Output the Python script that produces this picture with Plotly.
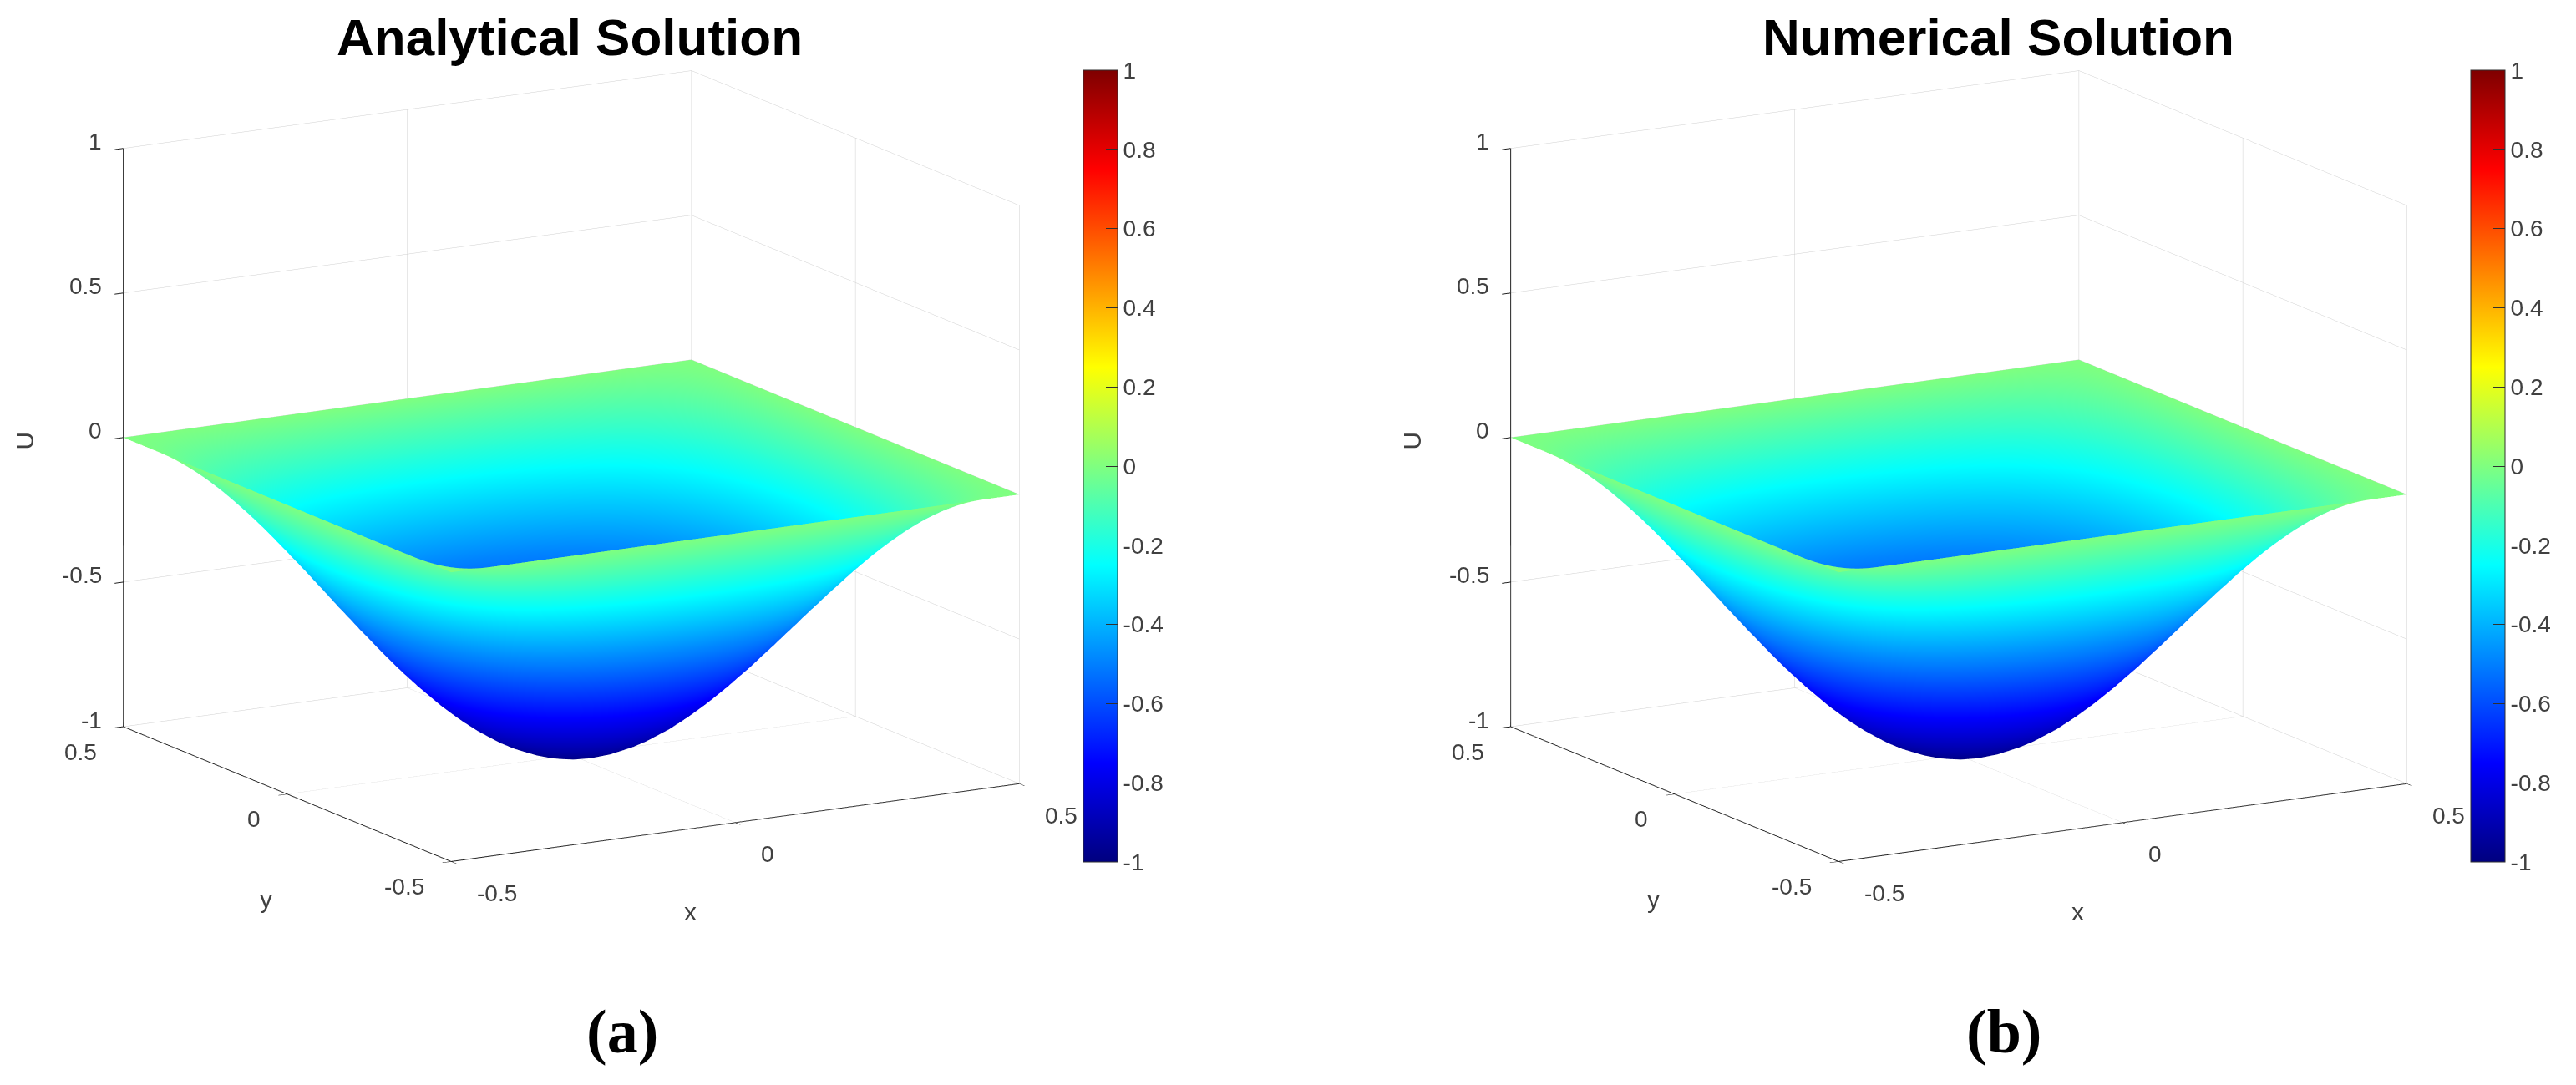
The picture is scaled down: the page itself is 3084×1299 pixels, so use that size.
import numpy as np
import plotly.graph_objects as go

# |U| on the quarter x, y in [-0.5, 0] (edge -> centre)
quarter_depth = [
[0,0,0,0,0,0,0,0,0,0,0,0,0,0,0,0,0,0,0,0,0],
[0,.006,.012,.018,.024,.030,.036,.041,.046,.051,.056,.060,.064,.067,.070,.073,.075,.076,.078,.078,.078],
[0,.012,.024,.037,.048,.060,.071,.082,.092,.102,.111,.119,.127,.133,.139,.144,.149,.152,.154,.156,.156],
[0,.018,.037,.054,.072,.089,.106,.122,.137,.152,.165,.177,.189,.199,.208,.216,.222,.227,.231,.233,.233],
[0,.024,.048,.072,.095,.118,.140,.161,.182,.201,.218,.235,.250,.263,.275,.285,.294,.300,.305,.308,.309],
[0,.030,.060,.089,.118,.146,.174,.200,.225,.249,.271,.291,.310,.326,.341,.354,.364,.372,.378,.382,.383],
[0,.036,.071,.106,.140,.174,.206,.237,.267,.295,.321,.345,.367,.387,.405,.419,.432,.441,.448,.453,.454],
[0,.041,.082,.122,.161,.200,.237,.273,.307,.339,.369,.397,.423,.445,.466,.483,.497,.508,.516,.521,.523],
[0,.046,.092,.137,.182,.225,.267,.307,.346,.382,.416,.447,.476,.501,.524,.543,.559,.572,.581,.586,.588],
[0,.051,.102,.152,.201,.249,.295,.339,.382,.422,.459,.494,.525,.554,.579,.600,.618,.631,.641,.647,.649],
[0,.056,.111,.165,.218,.271,.321,.369,.416,.459,.500,.538,.572,.603,.630,.653,.673,.688,.698,.705,.707],
[0,.060,.119,.177,.235,.291,.345,.397,.447,.494,.538,.578,.615,.648,.678,.703,.723,.739,.751,.758,.760],
[0,.064,.127,.189,.250,.310,.367,.423,.476,.525,.572,.615,.655,.690,.721,.747,.769,.787,.799,.807,.809],
[0,.067,.133,.199,.263,.326,.387,.445,.501,.554,.603,.648,.690,.727,.760,.788,.811,.829,.842,.850,.853],
[0,.070,.139,.208,.275,.341,.405,.466,.524,.579,.630,.678,.721,.760,.794,.823,.847,.866,.880,.888,.891],
[0,.073,.144,.216,.285,.354,.419,.483,.543,.600,.653,.703,.747,.788,.823,.854,.879,.898,.913,.921,.924],
[0,.075,.149,.222,.294,.364,.432,.497,.559,.618,.673,.723,.769,.811,.847,.879,.905,.925,.939,.948,.951],
[0,.076,.152,.227,.300,.372,.441,.508,.572,.631,.688,.739,.787,.829,.866,.898,.925,.946,.960,.969,.972],
[0,.078,.154,.231,.305,.378,.448,.516,.581,.641,.698,.751,.799,.842,.880,.913,.939,.960,.976,.985,.988],
[0,.078,.156,.233,.308,.382,.453,.521,.586,.647,.705,.758,.807,.850,.888,.921,.948,.969,.985,.994,.997],
[0,.078,.156,.233,.309,.383,.454,.523,.588,.649,.707,.760,.809,.853,.891,.924,.951,.972,.988,.997,1],
]
grid_half = [-0.5,-0.475,-0.45,-0.425,-0.4,-0.375,-0.35,-0.325,-0.3,-0.275,-0.25,-0.225,-0.2,-0.175,-0.15,-0.125,-0.1,-0.075,-0.05,-0.025,0]
xy_ticks = [-0.5, 0, 0.5]
xy_labels = ["-0.5", "0", "0.5"]
z_ticks = [-1, -0.5, 0, 0.5, 1]
z_labels = ["-1", "-0.5", "0", "0.5", "1"]
cb_ticks = [-1, -0.8, -0.6, -0.4, -0.2, 0, 0.2, 0.4, 0.6, 0.8, 1]
cb_labels = ["-1", "-0.8", "-0.6", "-0.4", "-0.2", "0", "0.2", "0.4", "0.6", "0.8", "1"]
titles = ["Analytical Solution", "Numerical Solution"]
captions = ["(a)", "(b)"]

W, H = 3084, 1299
q = -np.array(quarter_depth)
top = np.hstack([q, q[:, -2::-1]])
analytical_u = np.vstack([top, top[-2::-1]])
numerical_u = analytical_u.copy()
half = np.array(grid_half)
grid = np.concatenate([half, -half[-2::-1]])

jet = [[0, "#00007f"], [0.125, "#0000ff"], [0.375, "#00ffff"], [0.625, "#ffff00"], [0.875, "#ff0000"], [1, "#7f0000"]]
TXT = "#404040"
FONT = "Liberation Sans"
TICK = dict(family=FONT, size=28, color=TXT)
LABEL = dict(family=FONT, size=30, color=TXT)

fig = go.Figure()
cb_left = [1289, 2950]
for i, u in enumerate([analytical_u, numerical_u]):
    fig.add_trace(go.Surface(
        x=grid, y=grid, z=u, scene="scene" if i == 0 else "scene2",
        colorscale=jet, cmin=-1, cmax=1, hoverinfo="skip",
        lighting=dict(ambient=1, diffuse=0, specular=0, roughness=1, fresnel=0),
        contours=dict(x=dict(highlight=False), y=dict(highlight=False), z=dict(highlight=False)),
        colorbar=dict(
            x=cb_left[i] / W, xanchor="left", y=1 - 76 / H, yanchor="top",
            len=948 / H, lenmode="fraction", thickness=41, thicknessmode="pixels",
            xpad=0, ypad=0, outlinecolor="#303030", outlinewidth=1,
            ticks="inside", ticklen=14, tickcolor="#303030", tickwidth=1,
            tickvals=cb_ticks, ticktext=cb_labels, tickfont=TICK,
        ),
    ))

def axis(vals, rng):
    return dict(
        title=dict(text=""), range=rng, tickvals=vals, showticklabels=False,
        showbackground=False, showgrid=True, gridcolor="#cfcfcf", gridwidth=1,
        zeroline=False, showline=True, linecolor="#202020", linewidth=2,
        ticks="outside", ticklen=12, tickcolor="#202020", tickwidth=2,
        showspikes=False,
    )

def scene_text():
    a = []
    def add(x, y, z, text, font, xa, dx, dy, angle=0):
        a.append(dict(x=x, y=y, z=z, text=text, font=font, showarrow=False, xanchor=xa,
                      yanchor="middle", xshift=dx, yshift=dy, textangle=angle))
    for v, t in zip(z_ticks, z_labels):
        add(-0.5, 0.5, v, t, TICK, "right", -24, 8)
    for v, t in zip(xy_ticks, xy_labels):
        add(-0.5, v, -1, t, TICK, "right", -30, -30)
        add(v, -0.5, -1, t, TICK, "left", 29, -38)
    add(-0.5, 0, -1, "y", LABEL, "center", -25, -126)
    add(0, -0.5, -1, "x", LABEL, "center", -54, -107)
    add(-0.5, 0.5, 0, "U", LABEL, "center", -118, -4, -90)
    return a

R = 1.42
eye = dict(x=-0.487 * R, y=-0.844 * R, z=0.238 * R)
centers = [676, 2337]
hw = 676
dom_top, dom_h = 8, 1084
scenes = {}
for i, name in enumerate(["scene", "scene2"]):
    scenes[name] = dict(
        domain=dict(x=[(centers[i] - hw) / W, (centers[i] + hw) / W],
                    y=[1 - (dom_top + dom_h) / H, 1 - dom_top / H]),
        xaxis=axis(xy_ticks, [-0.5, 0.5]),
        yaxis=axis(xy_ticks, [-0.5, 0.5]),
        zaxis=axis(z_ticks, [-1, 1]),
        aspectmode="manual", aspectratio=dict(x=1.449, y=1.449, z=1.315),
        camera=dict(eye=eye, up=dict(x=0, y=0, z=1), center=dict(x=0, y=0, z=0),
                    projection=dict(type="orthographic")),
        dragmode=False, annotations=scene_text(),
    )

ann = []
for cx, t in zip([674, 2384], titles):
    ann.append(dict(text=f"<b>{t}</b>", x=cx / W, y=1 - 36 / H, xref="paper", yref="paper",
                    xanchor="center", yanchor="middle", showarrow=False,
                    font=dict(family=FONT, size=62, color="#000000")))
for cx, t in zip([737, 2391], captions):
    ann.append(dict(text=f"<b>{t}</b>", x=cx / W, y=1 - 1227 / H, xref="paper", yref="paper",
                    xanchor="center", yanchor="middle", showarrow=False,
                    font=dict(family="Liberation Serif", size=74, color="#000000")))

fig.update_layout(width=W, height=H, margin=dict(l=0, r=0, t=0, b=0),
                  paper_bgcolor="white", showlegend=False, annotations=ann, **scenes)
fig.write_html("out.html", config=dict(displayModeBar=False))
